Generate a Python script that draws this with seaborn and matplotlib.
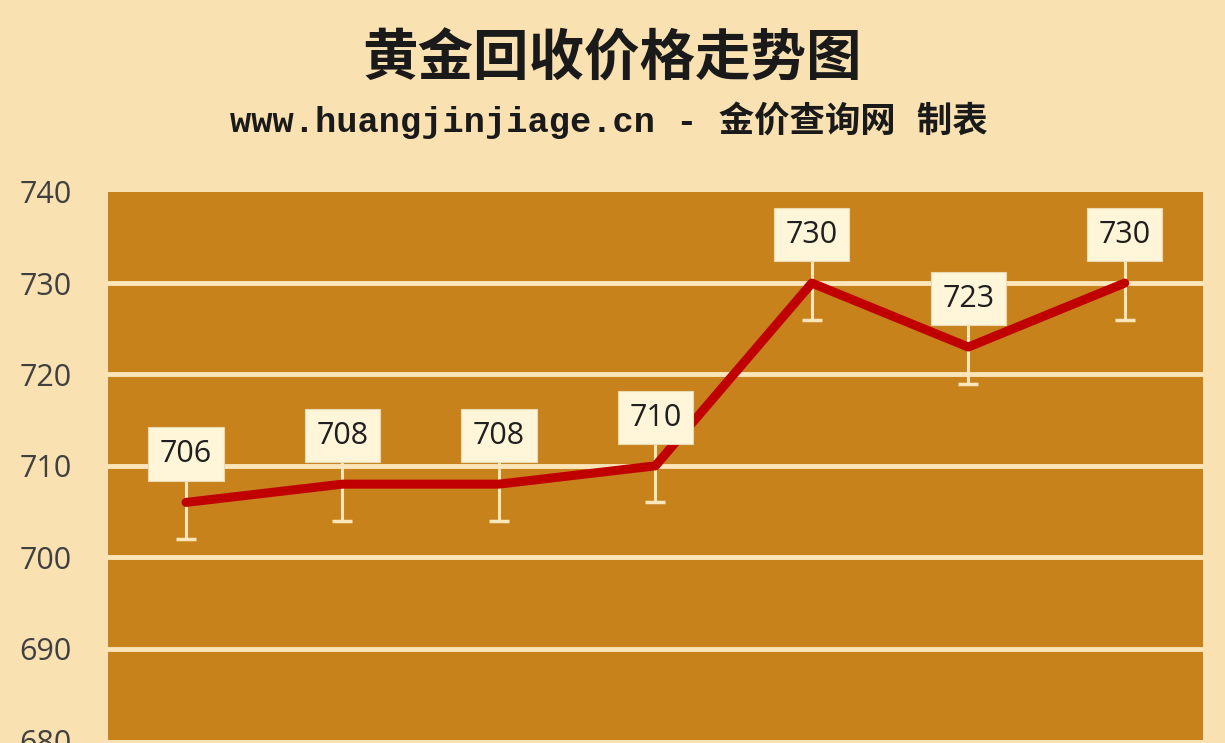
import numpy as np
import seaborn as sns
import matplotlib.pyplot as plt
import pandas as pd

# values
points = [0, 1, 2, 3, 4, 5, 6]
prices = [706, 708, 708, 710, 730, 723, 730]
err = [4, 4, 4, 4, 4, 4, 4]
y_ticks = [680, 690, 700, 710, 720, 730, 740]

title = "黄金回收价格走势图"
subtitle = "www.huangjinjiage.cn - 金价查询网 制表"

bg = "#FAE1B2"
plot_bg = "#C8821C"
grid_c = "#FCE6BA"
line_c = "#C00000"
box_c = "#FFF6DA"

sns.set_style("white")
plt.rcParams['font.family'] = ['Open Sans', 'Noto Sans CJK SC', 'DejaVu Sans']

df = pd.DataFrame({"x": points, "price": prices, "err": err})

fig = plt.figure(figsize=(12.25, 7.43), dpi=100, facecolor=bg)
ax = fig.add_axes([0.088, 0.004, 0.894, 0.738])
ax.set_facecolor(plot_bg)

for v in y_ticks[1:-1]:
    ax.axhline(v, color=grid_c, lw=3.5, zorder=1)

ax.errorbar(df["x"], df["price"], yerr=df["err"], fmt="none", ecolor=grid_c,
            elinewidth=2.2, capsize=7, capthick=2.5, zorder=2)

sns.lineplot(data=df, x="x", y="price", color=line_c, lw=6.5, ax=ax, zorder=3,
             solid_capstyle="round")

for x, y in zip(df["x"], df["price"]):
    ax.annotate(f"{y}", (x, y), xytext=(0, 24), textcoords="offset points",
                ha="center", va="bottom", fontsize=22, color="#1f1f1f",
                bbox=dict(boxstyle="square,pad=0.38", fc=box_c, ec="#E9D9B0", lw=0.8),
                zorder=5)

ax.set_xlim(-0.5, 6.5)
ax.set_ylim(680, 740)
ax.set_yticks(y_ticks)
ax.set_xticks([])
ax.set_xlabel("")
ax.set_ylabel("")
ax.tick_params(axis="y", labelsize=22, labelcolor="#404040", length=0, pad=26)
sns.despine(ax=ax, left=True, bottom=True)
for s in ax.spines.values():
    s.set_visible(False)

fig.text(0.5, 0.92, title, ha="center", va="center", fontsize=40, fontweight="bold",
         family=['Noto Sans CJK SC'], color="#1a1a1a")
fig.text(0.497, 0.838, subtitle, ha="center", va="center", fontsize=25.5, fontweight="bold",
         family=['Liberation Mono', 'Noto Sans CJK SC'], color="#1a1a1a")

fig.savefig("out.png", dpi=100, facecolor=bg)
